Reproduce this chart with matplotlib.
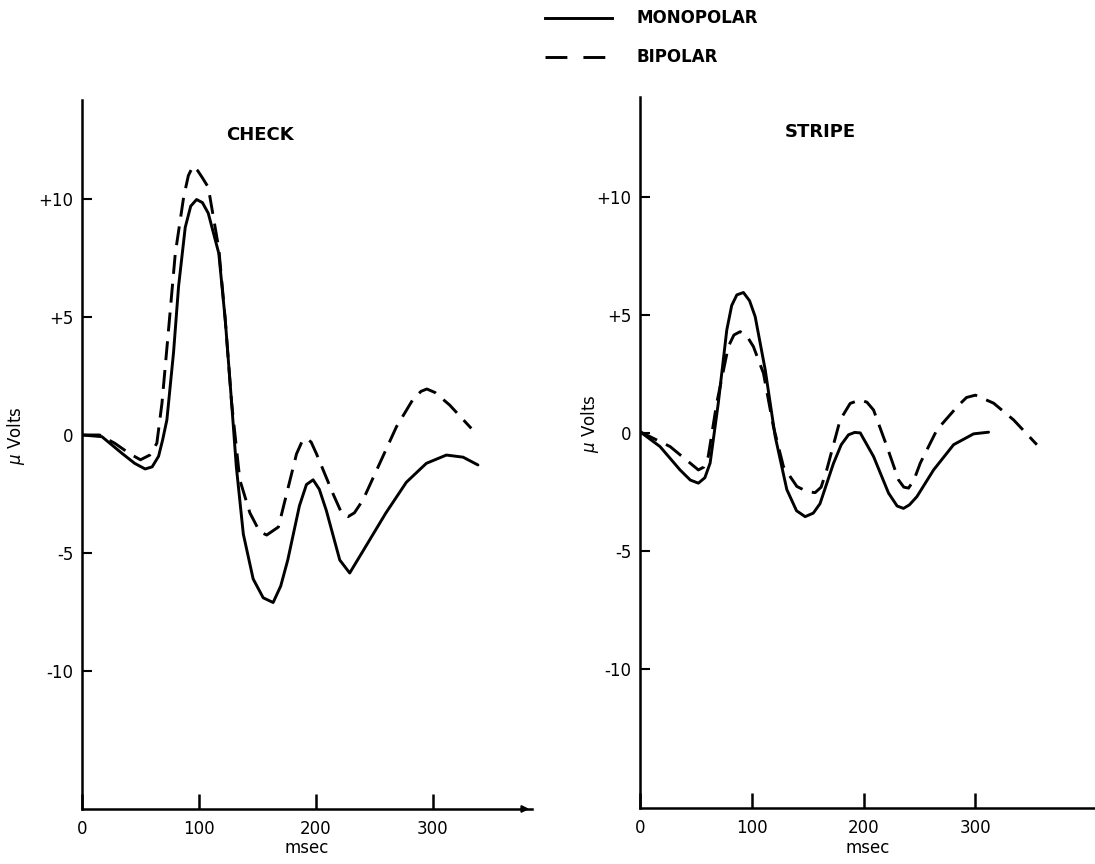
import matplotlib
matplotlib.use("Agg")
import matplotlib.pyplot as plt

# CHECK panel, values (msec, microvolts)
check_mono_t = [0, 17, 34, 45, 54, 60, 65.5, 69, 72.6, 78.3, 82.6, 88.3, 93, 98, 103, 108, 117,
                122.5, 128, 132, 138, 146.4, 155, 163.5, 170, 176, 186, 192, 197.7, 203, 209,
                220.5, 229, 243, 260, 277.5, 294.6, 311.7, 326, 338.7]
check_mono_v = [0, -0.07, -0.77, -1.2, -1.44, -1.35, -0.9, -0.2, 0.64, 3.5, 6.3, 8.8, 9.7, 9.98,
                9.85, 9.4, 7.7, 4.9, 1.35, -1.34, -4.2, -6.1, -6.9, -7.1, -6.4, -5.3, -3.0, -2.1,
                -1.9, -2.3, -3.2, -5.3, -5.85, -4.7, -3.3, -2.0, -1.2, -0.85, -0.94, -1.27]

check_bi_t = [0, 15, 28, 41, 50, 58, 64, 68.4, 74, 79.8, 87, 91, 95, 99, 103, 108, 117, 122.5,
              128, 135, 143.6, 152, 158, 168, 175, 183.5, 188, 192, 196, 200.6, 214.8, 222,
              227.6, 233, 240.4, 254.7, 269, 283, 290, 295, 302, 314.5, 333]
check_bi_v = [0, 0, -0.35, -0.8, -1.05, -0.85, -0.35, 1.35, 4.45, 7.7, 10.1, 11.0, 11.4, 11.2,
              10.9, 10.5, 7.9, 4.9, 1.35, -1.9, -3.3, -4.1, -4.24, -3.9, -2.5, -0.8, -0.3,
              -0.14, -0.3, -0.8, -2.5, -3.3, -3.46, -3.3, -2.75, -1.2, 0.35, 1.5, 1.85, 1.95,
              1.8, 1.27, 0.28]

# STRIPE panel
stripe_mono_t = [0, 17.9, 35.8, 45, 52.2, 58, 62.7, 70, 77.6, 82, 86.6, 92.5, 98, 103, 112,
                 120.9, 131.3, 140, 147.7, 155, 161, 173, 180, 186.5, 192, 197, 208.9, 222.3,
                 230, 235.7, 241, 247.7, 262.6, 280.5, 298.4, 311.8]
stripe_mono_v = [0.05, -0.58, -1.57, -2.0, -2.13, -1.9, -1.28, 1.26, 4.36, 5.4, 5.85, 5.95, 5.6,
                 4.93, 2.67, -0.15, -2.4, -3.3, -3.55, -3.4, -3.0, -1.3, -0.5, -0.08, 0.02, 0,
                 -1.0, -2.55, -3.1, -3.2, -3.05, -2.7, -1.57, -0.5, -0.04, 0.03]

stripe_bi_t = [0, 26.9, 44.8, 52.2, 57, 61, 68.6, 79, 84, 89.5, 95, 101.4, 110.4, 119.3, 128.3,
               140.3, 150, 156.7, 162, 167, 179, 188, 197, 203, 208.9, 220.9, 231.3, 236,
               240.2, 245, 250.7, 265.6, 283.5, 292, 300, 316.3, 334.2, 355]
stripe_bi_v = [0.05, -0.58, -1.28, -1.57, -1.45, -1.0, 1.26, 3.66, 4.15, 4.29, 4.15, 3.66, 2.53,
               0.27, -1.43, -2.27, -2.5, -2.53, -2.3, -1.57, 0.55, 1.25, 1.4, 1.3, 0.97, -0.58,
               -2.0, -2.3, -2.34, -2.0, -1.28, 0.13, 1.1, 1.5, 1.6, 1.26, 0.55, -0.5]

yticks = [10, 5, 0, -5, -10]
ytick_labels = ["+10", "+5", "0", "-5", "-10"]
xticks = [0, 100, 200, 300]

LW = 2.1
DASH = (0, (6.5, 3.4))

fig = plt.figure(figsize=(10.95, 8.64), dpi=100)

ax1 = fig.add_axes([0.0749, 0.0637, 0.411, 0.8206])
ax2 = fig.add_axes([0.5845, 0.0648, 0.4155, 0.823])

panels = [
    (ax1, "CHECK", check_mono_t, check_mono_v, check_bi_t, check_bi_v,
     (0, 385), (-15.85, 14.2), (-0.122, 0.527)),
    (ax2, "STRIPE", stripe_mono_t, stripe_mono_v, stripe_bi_t, stripe_bi_v,
     (0, 407), (-15.9, 14.24), (-0.085, 0.54)),
]

for ax, title, mt, mv, bt, bv, xl, yl, ylab in panels:
    ax.plot(mt, mv, color="black", lw=LW, solid_capstyle="round", solid_joinstyle="round")
    ax.plot(bt, bv, color="black", lw=LW, linestyle=DASH, dash_capstyle="butt",
            dash_joinstyle="round")
    ax.set_xlim(*xl)
    ax.set_ylim(*yl)
    for s in ["top", "right"]:
        ax.spines[s].set_visible(False)
    for s in ["left", "bottom"]:
        ax.spines[s].set_linewidth(1.8)
    ax.set_yticks(yticks)
    ax.set_yticklabels(ytick_labels)
    ax.set_xticks(xticks)
    ax.tick_params(axis="y", direction="in", length=7, width=1.5, labelsize=12, pad=6)
    ax.tick_params(axis="x", direction="in", length=11, width=1.8, labelsize=12, pad=8)
    ax.set_xlabel("msec", fontsize=12, labelpad=1)
    ax.set_ylabel(r"$\mu$ Volts", fontsize=12)
    ax.yaxis.set_label_coords(*ylab)
    ax.text(0.396, 0.95, title, transform=ax.transAxes,
            ha="center", va="center", fontsize=13, fontweight="bold")

# small arrowhead at the end of the CHECK time axis
ax1.annotate("", xy=(1.0, 0), xytext=(0.97, 0), xycoords="axes fraction",
             arrowprops=dict(arrowstyle="-|>", color="black", lw=1.5, mutation_scale=10))

# legend drawn at the top centre
fig.lines.append(plt.Line2D([545 / 1095, 612 / 1095], [1 - 18 / 864, 1 - 18 / 864],
                            transform=fig.transFigure, color="black", lw=LW))
fig.lines.append(plt.Line2D([545 / 1095, 612 / 1095], [1 - 57 / 864, 1 - 57 / 864],
                            transform=fig.transFigure, color="black", lw=LW,
                            linestyle=(0, (7.5, 5.5))))
fig.text(637 / 1095, 1 - 18 / 864, "MONOPOLAR", ha="left", va="center", fontsize=12,
         fontweight="bold")
fig.text(637 / 1095, 1 - 57 / 864, "BIPOLAR", ha="left", va="center", fontsize=12,
         fontweight="bold")

fig.savefig("out.png", dpi=100)
